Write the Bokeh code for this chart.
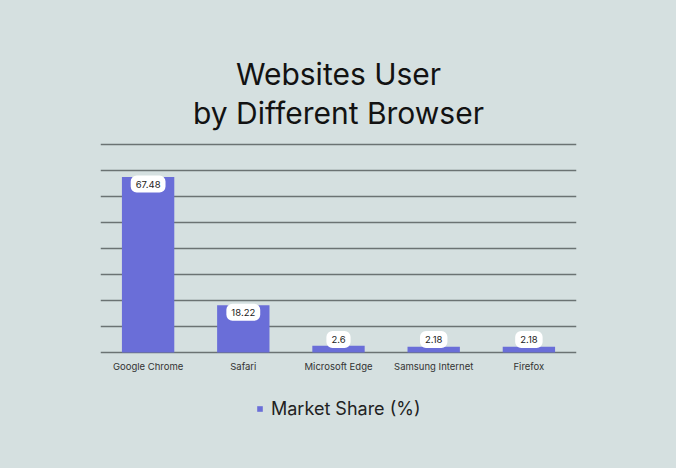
from bokeh.plotting import figure
from bokeh.models import ColumnDataSource, Range1d, Legend, LegendItem, FixedTicker, Label
from bokeh.core.properties import value
from bokeh.embed import file_html
from bokeh.resources import INLINE

browsers = ["Google Chrome", "Safari", "Microsoft Edge", "Samsung Internet", "Firefox"]
market_share = [67.48, 18.22, 2.6, 2.18, 2.18]
share_labels = ["67.48", "18.22", "2.6", "2.18", "2.18"]
y_ticks = [0, 10, 20, 30, 40, 50, 60, 70, 80]
title_lines = ["Websites User", "by Different Browser"]

BG = "#d5e0e0"
BAR = "#6a6ed8"

label_y = [max(v, 7.7) for v in market_share]
src = ColumnDataSource(dict(x=browsers, top=market_share, lab=share_labels, ly=label_y))

p = figure(x_range=browsers, y_range=Range1d(-44.6, 135.4), width=676, height=468,
           output_backend="svg", toolbar_location=None,
           min_border_left=100, min_border_right=100, min_border_top=0, min_border_bottom=0)
p.background_fill_color = BG
p.border_fill_color = BG
p.outline_line_color = None

r = p.vbar(x="x", top="top", width=0.55, source=src, fill_color=BAR, line_color=None)

p.yaxis.visible = False
p.xaxis.fixed_location = 0
p.xaxis.axis_line_color = None
p.xaxis.major_tick_line_color = None
p.xaxis.minor_tick_line_color = None
p.xaxis.major_label_text_font = "Inter"
p.xaxis.major_label_text_font_size = "9.5px"
p.xaxis.major_label_text_color = "#333333"
p.xaxis.major_label_standoff = 2
p.xgrid.grid_line_color = None
p.ygrid.ticker = FixedTicker(ticks=y_ticks)
p.ygrid.grid_line_color = "#6b7373"
p.ygrid.grid_line_width = 1.5

p.text(x="x", y="ly", text="lab", source=src, y_offset=7,
       text_align="center", text_baseline="middle",
       text_font=value("Inter"), text_font_size="9.5px", text_color="#222222",
       background_fill_color="white", border_line_color=None,
       padding=[5, 5], border_radius=6)

for txt, yy in zip(title_lines, [107.3, 92.3]):
    p.add_layout(Label(x=2.5, y=yy, text=txt, text_align="center", text_baseline="alphabetic",
                       text_font="Inter", text_font_size="30px", text_color="#121212"))

legend = Legend(items=[LegendItem(label="Market Share (%)", renderers=[r])],
                location=(156, 49), orientation="horizontal",
                glyph_width=7, glyph_height=7, label_height=20, label_standoff=8,
                label_text_font="Inter", label_text_font_size="18px", label_text_color="#222222",
                padding=0, margin=0, border_line_color=None, background_fill_alpha=0)
p.add_layout(legend)

html = file_html(p, INLINE)
html = html.replace("</head>", "<style>html,body{background:%s;}</style></head>" % BG, 1)
open("out.html", "w").write(html)
